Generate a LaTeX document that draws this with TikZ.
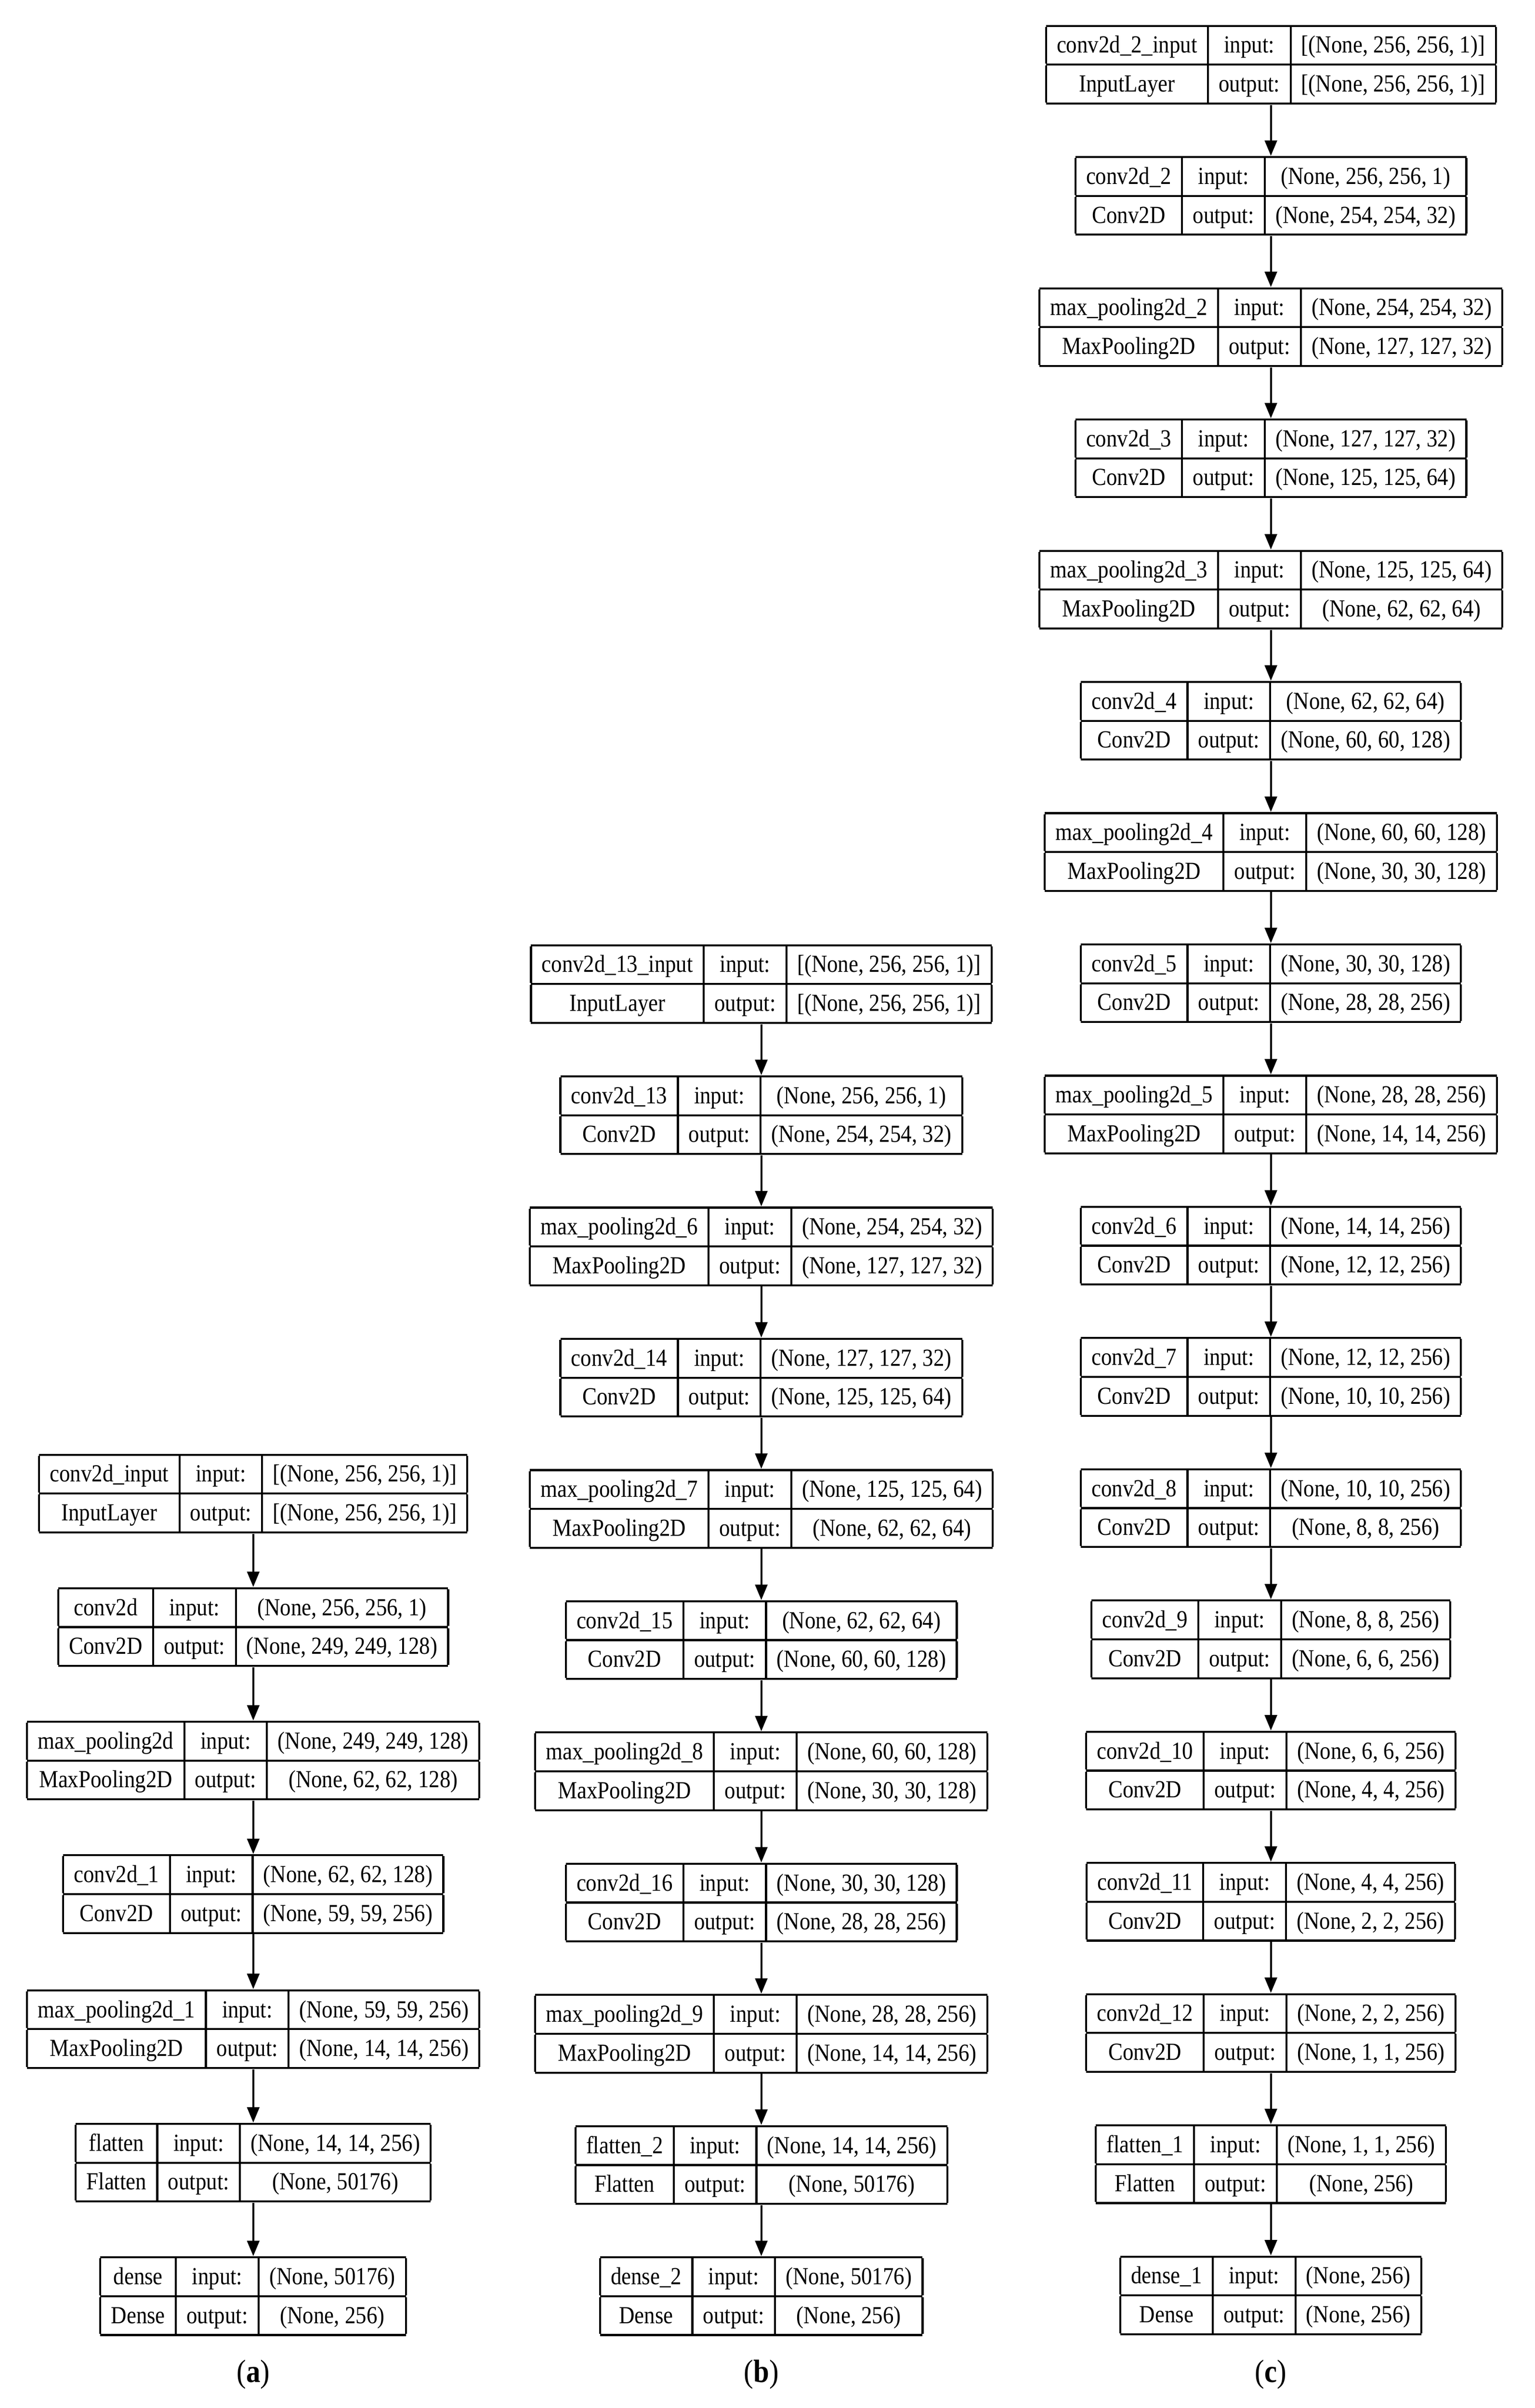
\documentclass[tikz,border=0pt]{standalone}
\usepackage{fontspec}
\setmainfont[FakeStretch=0.88]{Liberation Serif}
\usetikzlibrary{arrows.meta}
\setlength{\arrayrulewidth}{1.3pt}
\setlength{\tabcolsep}{7pt}
\newcommand\lyr[7]{%
\node[lay] (#1) at (#2,#3) {\begin{tabular}{|c|c|c|}\hline
\rule[-7pt]{0pt}{24pt}#4 & input: & #6\\\hline
\rule[-7pt]{0pt}{24pt}#5 & output: & #7\\\hline
\end{tabular}};}
\tikzset{lay/.style={anchor=north,inner sep=0pt,font=\fontsize{16}{17}\selectfont},
 conn/.style={line width=1.2pt,-{Triangle[length=10pt,width=8pt]}},
 captxt/.style={font=\fontsize{21}{24}\selectfont}}
\begin{document}
\begin{tikzpicture}[x=1pt,y=-1pt]
\useasboundingbox (0,0) rectangle (1000,1569);
% column c
\def\cx{828}
\lyr{c0}{\cx}{16}{conv2d\_2\_input}{InputLayer}{[(None, 256, 256, 1)]}{[(None, 256, 256, 1)]}
\lyr{c1}{\cx}{101.5}{conv2d\_2}{Conv2D}{(None, 256, 256, 1)}{(None, 254, 254, 32)}
\lyr{c2}{\cx}{187}{max\_pooling2d\_2}{MaxPooling2D}{(None, 254, 254, 32)}{(None, 127, 127, 32)}
\lyr{c3}{\cx}{272.5}{conv2d\_3}{Conv2D}{(None, 127, 127, 32)}{(None, 125, 125, 64)}
\lyr{c4}{\cx}{358}{max\_pooling2d\_3}{MaxPooling2D}{(None, 125, 125, 64)}{(None, 62, 62, 64)}
\lyr{c5}{\cx}{443.5}{conv2d\_4}{Conv2D}{(None, 62, 62, 64)}{(None, 60, 60, 128)}
\lyr{c6}{\cx}{529}{max\_pooling2d\_4}{MaxPooling2D}{(None, 60, 60, 128)}{(None, 30, 30, 128)}
\lyr{c7}{\cx}{614.5}{conv2d\_5}{Conv2D}{(None, 30, 30, 128)}{(None, 28, 28, 256)}
\lyr{c8}{\cx}{700}{max\_pooling2d\_5}{MaxPooling2D}{(None, 28, 28, 256)}{(None, 14, 14, 256)}
\lyr{c9}{\cx}{785.5}{conv2d\_6}{Conv2D}{(None, 14, 14, 256)}{(None, 12, 12, 256)}
\lyr{c10}{\cx}{871}{conv2d\_7}{Conv2D}{(None, 12, 12, 256)}{(None, 10, 10, 256)}
\lyr{c11}{\cx}{956.5}{conv2d\_8}{Conv2D}{(None, 10, 10, 256)}{(None, 8, 8, 256)}
\lyr{c12}{\cx}{1042}{conv2d\_9}{Conv2D}{(None, 8, 8, 256)}{(None, 6, 6, 256)}
\lyr{c13}{\cx}{1127.5}{conv2d\_10}{Conv2D}{(None, 6, 6, 256)}{(None, 4, 4, 256)}
\lyr{c14}{\cx}{1213}{conv2d\_11}{Conv2D}{(None, 4, 4, 256)}{(None, 2, 2, 256)}
\lyr{c15}{\cx}{1298.5}{conv2d\_12}{Conv2D}{(None, 2, 2, 256)}{(None, 1, 1, 256)}
\lyr{c16}{\cx}{1384}{flatten\_1}{Flatten}{(None, 1, 1, 256)}{(None, 256)}
\lyr{c17}{\cx}{1469.5}{dense\_1}{Dense}{(None, 256)}{(None, 256)}
\foreach \i [evaluate=\i as \j using int(\i+1)] in {0,...,16}{\draw[conn] (c\i.south) -- (c\j.north);}
% column b
\def\bx{496}
\lyr{b0}{\bx}{615}{conv2d\_13\_input}{InputLayer}{[(None, 256, 256, 1)]}{[(None, 256, 256, 1)]}
\lyr{b1}{\bx}{700.5}{conv2d\_13}{Conv2D}{(None, 256, 256, 1)}{(None, 254, 254, 32)}
\lyr{b2}{\bx}{786}{max\_pooling2d\_6}{MaxPooling2D}{(None, 254, 254, 32)}{(None, 127, 127, 32)}
\lyr{b3}{\bx}{871.5}{conv2d\_14}{Conv2D}{(None, 127, 127, 32)}{(None, 125, 125, 64)}
\lyr{b4}{\bx}{957}{max\_pooling2d\_7}{MaxPooling2D}{(None, 125, 125, 64)}{(None, 62, 62, 64)}
\lyr{b5}{\bx}{1042.5}{conv2d\_15}{Conv2D}{(None, 62, 62, 64)}{(None, 60, 60, 128)}
\lyr{b6}{\bx}{1128}{max\_pooling2d\_8}{MaxPooling2D}{(None, 60, 60, 128)}{(None, 30, 30, 128)}
\lyr{b7}{\bx}{1213.5}{conv2d\_16}{Conv2D}{(None, 30, 30, 128)}{(None, 28, 28, 256)}
\lyr{b8}{\bx}{1299}{max\_pooling2d\_9}{MaxPooling2D}{(None, 28, 28, 256)}{(None, 14, 14, 256)}
\lyr{b9}{\bx}{1384.5}{flatten\_2}{Flatten}{(None, 14, 14, 256)}{(None, 50176)}
\lyr{b10}{\bx}{1470}{dense\_2}{Dense}{(None, 50176)}{(None, 256)}
\foreach \i [evaluate=\i as \j using int(\i+1)] in {0,...,9}{\draw[conn] (b\i.south) -- (b\j.north);}
% column a
\def\ax{165}
\lyr{a0}{\ax}{947}{conv2d\_input}{InputLayer}{[(None, 256, 256, 1)]}{[(None, 256, 256, 1)]}
\lyr{a1}{\ax}{1034}{conv2d}{Conv2D}{(None, 256, 256, 1)}{(None, 249, 249, 128)}
\lyr{a2}{\ax}{1121}{max\_pooling2d}{MaxPooling2D}{(None, 249, 249, 128)}{(None, 62, 62, 128)}
\lyr{a3}{\ax}{1208}{conv2d\_1}{Conv2D}{(None, 62, 62, 128)}{(None, 59, 59, 256)}
\lyr{a4}{\ax}{1296}{max\_pooling2d\_1}{MaxPooling2D}{(None, 59, 59, 256)}{(None, 14, 14, 256)}
\lyr{a5}{\ax}{1383}{flatten}{Flatten}{(None, 14, 14, 256)}{(None, 50176)}
\lyr{a6}{\ax}{1470}{dense}{Dense}{(None, 50176)}{(None, 256)}
\foreach \i [evaluate=\i as \j using int(\i+1)] in {0,...,5}{\draw[conn] (a\i.south) -- (a\j.north);}
% captions
\node[captxt] (la) at (\ax,1547) {(\textbf{a})};
\node[captxt] (lb) at (\bx,1547) {(\textbf{b})};
\node[captxt] (lc) at (\cx,1547) {(\textbf{c})};
\end{tikzpicture}
\end{document}
